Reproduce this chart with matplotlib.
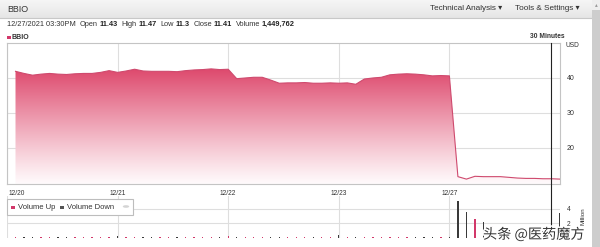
import matplotlib
matplotlib.use('Agg')
import matplotlib.pyplot as plt
import numpy as np
from matplotlib.patches import Rectangle, Circle, Polygon
import matplotlib.patheffects as pe

plt.rcParams['font.family'] = ['Liberation Sans', 'DejaVu Sans']

# ---------------- data ----------------
ticker = 'BBIO'
timestamp = '12/27/2021 03:30PM'
header_labels = ['Open', 'High', 'Low', 'Close', 'Volume']
header_values = ['11.43', '11.47', '11.3', '11.41', '1,449,762']
day_labels = ['12/20', '12/21', '12/22', '12/23', '12/27']
bars_per_day = 13
price = [41.9, 41.3, 40.8, 41.1, 41.3, 41.1, 41.0, 41.2, 41.3, 41.3, 41.6, 42.1, 41.6,
         42.0, 42.5, 42.0, 41.9, 41.9, 41.9, 41.8, 42.1, 42.3, 42.4, 42.6, 42.4, 42.5,
         39.8, 40.0, 40.2, 40.2, 39.4, 38.5, 38.6, 38.6, 38.7, 38.5, 38.5, 38.6, 38.5,
         38.6, 38.2, 39.7, 40.0, 40.2, 40.9, 41.1, 41.2, 41.1, 40.9, 40.6, 40.7, 40.6,
         11.8, 11.1, 11.9, 11.8, 11.8, 11.8, 11.6, 11.4, 11.3, 11.3, 11.2, 11.2, 11.1]
volume_m = [0.20, 0.12, 0.10, 0.15, 0.08, 0.10, 0.12, 0.09, 0.10, 0.08, 0.11, 0.12, 0.25,
            0.15, 0.10, 0.12, 0.09, 0.10, 0.08, 0.09, 0.10, 0.12, 0.10, 0.11, 0.12, 0.30,
            0.18, 0.12, 0.10, 0.14, 0.12, 0.09, 0.10, 0.08, 0.10, 0.09, 0.10, 0.11, 0.35,
            0.15, 0.12, 0.18, 0.12, 0.10, 0.11, 0.09, 0.10, 0.08, 0.10, 0.09, 0.10, 0.20,
            5.1, 3.6, 2.6, 2.2, 1.6, 1.3, 1.1, 1.0, 0.9, 0.9, 1.0, 1.2, 3.5]
crosshair_bar = 64
price_ticks = [20, 30, 40]
vol_ticks = [2, 4]

# ---------------- layout helpers ----------------
W, H = 600, 247
fig = plt.figure(figsize=(6, 2.47), dpi=100)
fig.patch.set_facecolor('white')

def fx(px):
    return px / W

def fy(py):
    return 1 - py / H

TXT = '#333333'
UP = '#d2386a'
DOWN = '#3a3a3a'
GRID = '#dedede'

# header bar
hdr = fig.add_axes([0, fy(18), 1, 18 / H])
hdr.set_xlim(0, 1); hdr.set_ylim(0, 1); hdr.axis('off')
g = np.linspace(0.965, 0.9, 64).reshape(-1, 1)
hdr.imshow(np.dstack([g, g, g]), extent=[0, 1, 0, 1], aspect='auto', origin='upper')
fig.add_artist(plt.Line2D([0, 1], [fy(18), fy(18)], color='#c8c8c8', lw=0.8))
fig.text(fx(7), fy(9), ticker, fontsize=6.4, color=TXT, va='center', ha='left')
fig.text(fx(430), fy(9), 'Technical Analysis \u25be', fontsize=5.9, color=TXT, va='center', ha='left')
fig.text(fx(515), fy(9), 'Tools & Settings \u25be', fontsize=5.9, color=TXT, va='center', ha='left')

# scrollbar
fig.add_artist(Rectangle((fx(592), 0), fx(8), 1, transform=fig.transFigure,
                         facecolor='#cdcdcd', edgecolor='none', zorder=5))
fig.add_artist(Rectangle((fx(592), fy(10)), fx(8), 10 / H, transform=fig.transFigure,
                         facecolor='#eeeeee', edgecolor='none', zorder=6))
fig.text(fx(596), fy(5), '\u25b4', fontsize=4, color='#999999', ha='center', va='center', zorder=7)

# info line with bold values
renderer = fig.canvas.get_renderer()
FS = 5.3
x = 7
t = fig.text(fx(x), fy(24), timestamp, fontsize=FS, color=TXT, va='center', ha='left')
x += t.get_window_extent(renderer).width + 4
for lab, val in zip(header_labels, header_values):
    t = fig.text(fx(x), fy(24), lab, fontsize=FS, color=TXT, va='center', ha='left')
    x += t.get_window_extent(renderer).width + 1.5
    t = fig.text(fx(x), fy(24), val, fontsize=FS, color='#222222', fontweight='bold',
                 va='center', ha='left')
    x += t.get_window_extent(renderer).width + 4

# series legend
fig.add_artist(Rectangle((fx(7), fy(39)), fx(3.5), 3.5 / H, transform=fig.transFigure,
                         facecolor=UP, edgecolor='none'))
fig.text(fx(12), fy(37.3), ticker, fontsize=5, color=TXT, fontweight='bold', va='center', ha='left')
fig.text(fx(565), fy(37), '30 Minutes', fontsize=4.8, color=TXT, fontweight='bold', va='center', ha='right')

# ---------------- price panel ----------------
n = len(price)
xs = np.arange(1, n + 1)
xmax = n
ax = fig.add_axes([fx(7), fy(184), fx(560) - fx(7), (184 - 43) / H])
ymin, ymax = 9.7, 50
ax.set_xlim(0, xmax)
ax.set_ylim(ymin, ymax)
day_pos = [k * bars_per_day for k in range(len(day_labels))]
for d in day_pos:
    ax.axvline(d, color=GRID, lw=0.8, zorder=0)
for yv in price_ticks:
    ax.axhline(yv, color=GRID, lw=0.8, zorder=0)

# gradient fill under the line
top_c = np.array([0.87, 0.29, 0.43])
bot_c = np.array([1.0, 0.98, 0.985])
yy = np.linspace(ymin, ymax, 300)
frac = np.clip((yy - ymin) / (42.5 - ymin), 0, 1) ** 1.1
cols = bot_c[None, :] * (1 - frac[:, None]) + top_c[None, :] * frac[:, None]
img = np.repeat(cols[:, None, :], 2, axis=1)
im = ax.imshow(img, extent=[0, xmax, ymin, ymax], origin='lower', aspect='auto', zorder=1)
poly_pts = [(xs[0], ymin)] + list(zip(xs, price)) + [(xs[-1], ymin)]
poly = Polygon(poly_pts, closed=True, facecolor='none', edgecolor='none', transform=ax.transData)
ax.add_patch(poly)
im.set_clip_path(poly)
ax.plot(xs, price, color='#cf4a6e', lw=0.8, zorder=3)
ax.set_xlim(0, xmax)
ax.set_ylim(ymin, ymax)

ax.set_xticks([])
ax.yaxis.tick_right()
ax.set_yticks(price_ticks)
ax.set_yticklabels([str(v) for v in price_ticks])
ax.tick_params(axis='y', length=0, pad=5, labelsize=5, labelcolor=TXT)
for s in ax.spines.values():
    s.set_color('#c4c4c4')
    s.set_linewidth(0.8)

for k, lab in enumerate(day_labels):
    xp = day_pos[k] if k > 0 else 1.1
    ax.text(xp, -0.045, lab, transform=ax.get_xaxis_transform(), fontsize=4.8,
            color=TXT, ha='center', va='top')
fig.text(fx(566), fy(45.5), 'USD', fontsize=4.8, color=TXT, va='center', ha='left')

# ---------------- volume panel ----------------
vax = fig.add_axes([fx(7), fy(238), fx(560) - fx(7), (238 - 196) / H])
vax.set_xlim(0, xmax)
vax.set_ylim(0, 5.79)
for d in day_pos:
    vax.axvline(d, color=GRID, lw=0.8, zorder=0)
for yv in vol_ticks:
    vax.axhline(yv, color=GRID, lw=0.8, zorder=0)
prev = [price[0]] + price[:-1]
vcols = [UP if p >= q else DOWN for p, q in zip(price, prev)]
vax.bar(xs, volume_m, width=0.16, color=vcols, zorder=2)
vax.set_xticks([])
vax.yaxis.tick_right()
vax.set_yticks(vol_ticks)
vax.set_yticklabels([str(v) for v in vol_ticks])
vax.tick_params(axis='y', length=0, pad=5, labelsize=4.8, labelcolor=TXT)
for s in vax.spines.values():
    s.set_visible(False)
fig.text(fx(583), fy(216), 'Million', fontsize=4.5, color=TXT, rotation=90, va='center', ha='center')

# volume legend box
fig.add_artist(Rectangle((fx(7), fy(215)), fx(126), 16 / H, transform=fig.transFigure,
                         facecolor='white', edgecolor='#bdbdbd', lw=0.8, zorder=8))
fig.add_artist(Rectangle((fx(11), fy(209)), fx(3.5), 3.5 / H, transform=fig.transFigure,
                         facecolor=UP, edgecolor='none', zorder=9))
fig.text(fx(18), fy(207), 'Volume Up', fontsize=5.5, color=TXT, va='center', ha='left', zorder=9)
fig.add_artist(Rectangle((fx(60), fy(209)), fx(3.5), 3.5 / H, transform=fig.transFigure,
                         facecolor='#555555', edgecolor='none', zorder=9))
fig.text(fx(67), fy(207), 'Volume Down', fontsize=5.5, color=TXT, va='center', ha='left', zorder=9)
fig.add_artist(Circle((fx(126), fy(206.5)), 3.2 / W, transform=fig.transFigure,
                      facecolor='#d4d4d4', edgecolor='none', zorder=9))

# crosshair
cx = fx(7) + (fx(560) - fx(7)) * crosshair_bar / xmax
fig.add_artist(plt.Line2D([cx, cx], [fy(238), fy(43)], color='#222222', lw=0.8, zorder=7))

# watermark
fig.text(fx(483), fy(234.5), '头条 @医药魔方', fontsize=10.2, color='#333333',
         family=['Noto Sans CJK SC', 'DejaVu Sans'], va='center', ha='left', zorder=10,
         path_effects=[pe.withStroke(linewidth=2.2, foreground='white')])

fig.savefig('out.png', dpi=100)
